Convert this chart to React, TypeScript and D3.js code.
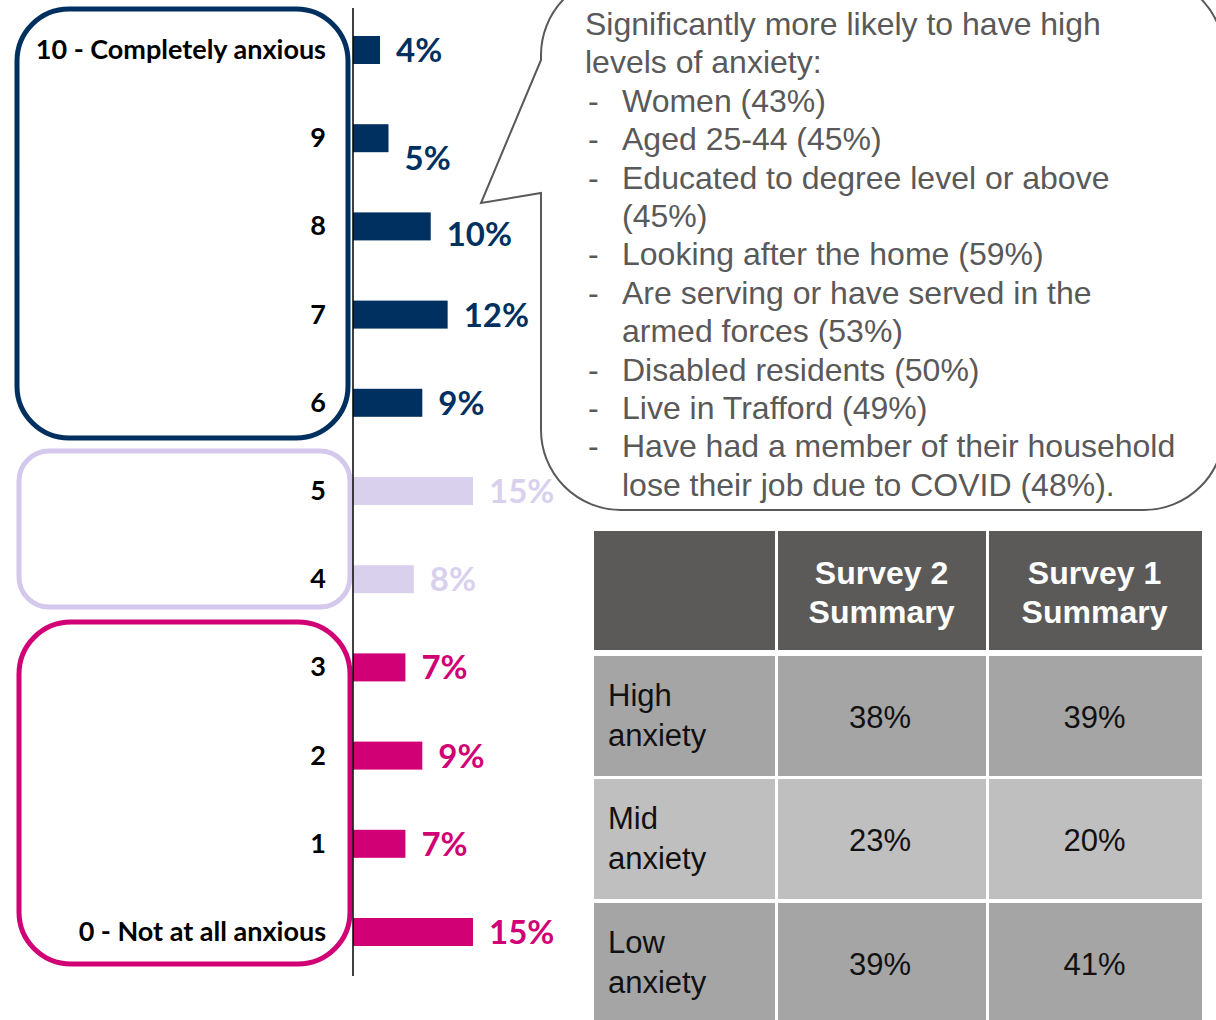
import React from "react";
import * as d3 from "d3";

// ---------- data ----------
const categories: string[] = [
  "10 - Completely anxious", "9", "8", "7", "6", "5", "4", "3", "2", "1", "0 - Not at all anxious",
];
const values: number[] = [4, 5, 10, 12, 9, 15, 8, 7, 9, 7, 15];
const groupOf: string[] = ["high", "high", "high", "high", "high", "mid", "mid", "low", "low", "low", "low"];
const groupColors: Record<string, string> = { high: "#00305F", mid: "#D9D0EE", low: "#D10074" };

const calloutLines: { bullet: boolean; text: string }[] = [
  { bullet: false, text: "Significantly more likely to have high" },
  { bullet: false, text: "levels of anxiety:" },
  { bullet: true, text: "Women (43%)" },
  { bullet: true, text: "Aged 25-44 (45%)" },
  { bullet: true, text: "Educated to degree level or above" },
  { bullet: false, text: "(45%)" },
  { bullet: true, text: "Looking after the home (59%)" },
  { bullet: true, text: "Are serving or have served in the" },
  { bullet: false, text: "armed forces (53%)" },
  { bullet: true, text: "Disabled residents (50%)" },
  { bullet: true, text: "Live in Trafford (49%)" },
  { bullet: true, text: "Have had a member of their household" },
  { bullet: false, text: "lose their job due to COVID (48%)." },
];

const tableHeaders: string[][] = [[], ["Survey 2", "Summary"], ["Survey 1", "Summary"]];
const tableRowLabels: string[][] = [["High", "anxiety"], ["Mid", "anxiety"], ["Low", "anxiety"]];
const survey2: string[] = ["38%", "23%", "39%"];
const survey1: string[] = ["39%", "20%", "41%"];

// ---------- component ----------
export default function App() {
  const W = 1216, H = 1020;
  const axisX = 353;
  const y = d3.scalePoint<string>().domain(categories).range([50, 932]);
  const x = d3.scaleLinear().domain([0.8, 15]).range([axisX, 473]);
  const barH = 28;
  const labelFont = "Lato, 'Open Sans', sans-serif";
  const arial = "'Liberation Sans', Arial, sans-serif";
  const labelNudge: Record<string, number> = { "9": 20, "8": 8 };

  // callout bubble
  const L = 541, T = -25, R = 1224, B = 510, r = 80;
  const bubble = [
    `M ${L} 60`,
    `L ${L} ${T + r}`,
    `A ${r} ${r} 0 0 1 ${L + r} ${T}`,
    `L ${R - r} ${T}`,
    `A ${r} ${r} 0 0 1 ${R} ${T + r}`,
    `L ${R} ${B - r}`,
    `A ${r} ${r} 0 0 1 ${R - r} ${B}`,
    `L ${L + r} ${B}`,
    `A ${r} ${r} 0 0 1 ${L} ${B - r}`,
    `L ${L} 193`,
    `L 481 203`,
    `Z`,
  ].join(" ");

  const colEdges = [594, 776, 987, 1202];
  const rowTops = [656, 779, 903];
  const rowH = [120, 120, 130];
  const rowFill = ["#A5A5A5", "#BFBFBF", "#A5A5A5"];

  return (
    <svg width={W} height={H} style={{ position: "absolute", left: 0, top: 0, background: "#fff" }}>
      {/* group boxes */}
      <rect x={17} y={9} width={331} height={429} rx={52} fill="none" stroke="#00305F" strokeWidth={5} />
      <rect x={19} y={451} width={331} height={156} rx={30} fill="none" stroke="#D4C9EC" strokeWidth={5} />
      <rect x={19} y={622} width={331} height={342} rx={52} fill="none" stroke="#D10074" strokeWidth={5} />

      {/* bars */}
      {categories.map((c, i) => (
        <rect key={c} x={axisX} y={(y(c) as number) - barH / 2} width={x(values[i]) - axisX} height={barH}
          fill={groupColors[groupOf[i]]} />
      ))}
      <line x1={axisX} x2={axisX} y1={8} y2={976} stroke="#000" strokeWidth={1.5} />

      {/* category labels */}
      {categories.map((c) => (
        <text key={"c" + c} x={326} y={(y(c) as number) + 9} textAnchor="end" fontFamily={labelFont}
          fontWeight={700} fontSize={27} fill="#000">{c}</text>
      ))}
      {/* value labels */}
      {categories.map((c, i) => (
        <text key={"v" + c} x={x(values[i]) + 16} y={(y(c) as number) + 12 + (labelNudge[c] || 0)}
          fontFamily={labelFont} fontWeight={700} fontSize={33} fill={groupColors[groupOf[i]]}>
          {values[i]}%
        </text>
      ))}

      {/* callout */}
      <path d={bubble} fill="#fff" stroke="#595959" strokeWidth={2} strokeLinejoin="miter" />
      {calloutLines.map((ln, i) => {
        const by = 35 + i * 38.4;
        const indent = i >= 2;
        return (
          <g key={"l" + i} fontFamily={arial} fontSize={32} fill="#595959">
            {ln.bullet && <text x={588} y={by}>-</text>}
            <text x={indent ? 622 : 585} y={by}>{ln.text}</text>
          </g>
        );
      })}

      {/* table header */}
      {[0, 1, 2].map((ci) => (
        <g key={"h" + ci}>
          <rect x={colEdges[ci] + (ci ? 2 : 0)} y={531} width={colEdges[ci + 1] - colEdges[ci] - (ci ? 2 : 0) - (ci < 2 ? 1 : 0)}
            height={119} fill="#5B5A58" />
          {tableHeaders[ci].map((t, k) => (
            <text key={k} x={(colEdges[ci] + colEdges[ci + 1]) / 2} y={584 + k * 39} textAnchor="middle"
              fontFamily={arial} fontWeight={700} fontSize={32} fill="#fff">{t}</text>
          ))}
        </g>
      ))}
      {/* table body */}
      {tableRowLabels.map((lab, ri) => {
        const top = rowTops[ri];
        const mid = top + 60;
        return (
          <g key={"r" + ri}>
            {[0, 1, 2].map((ci) => (
              <rect key={ci} x={colEdges[ci] + (ci ? 2 : 0)} y={top}
                width={colEdges[ci + 1] - colEdges[ci] - (ci ? 2 : 0) - (ci < 2 ? 1 : 0)} height={rowH[ri]}
                fill={rowFill[ri]} />
            ))}
            {lab.map((t, k) => (
              <text key={k} x={608} y={top + 50 + k * 40} fontFamily={arial} fontSize={31} fill="#111">{t}</text>
            ))}
            <text x={880} y={mid + 12} textAnchor="middle" fontFamily={arial} fontSize={31} fill="#111">{survey2[ri]}</text>
            <text x={1094.5} y={mid + 12} textAnchor="middle" fontFamily={arial} fontSize={31} fill="#111">{survey1[ri]}</text>
          </g>
        );
      })}
    </svg>
  );
}
